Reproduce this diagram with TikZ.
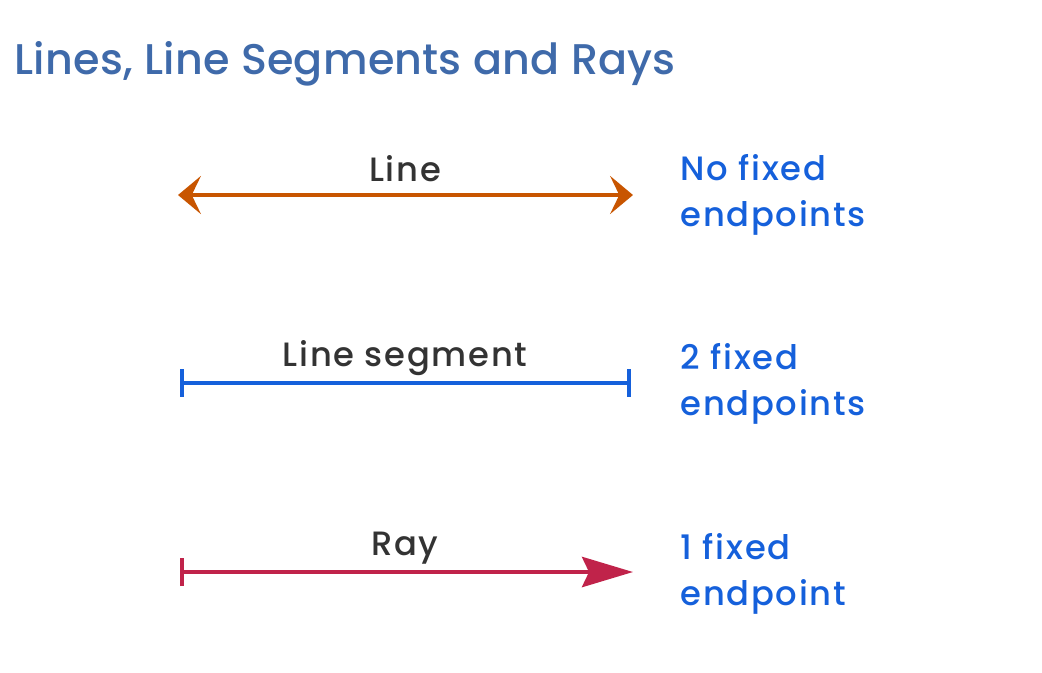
\documentclass[tikz,border=0pt]{standalone}
\usepackage{fontspec}
\setmainfont{Poppins Medium}[LetterSpace=5]
\newfontfamily\titlefont{Poppins Medium}[LetterSpace=0.5]
\usetikzlibrary{arrows.meta}

\definecolor{titleblue}{RGB}{63, 106, 170}
\definecolor{noteblue}{RGB}{21, 96, 219}
\definecolor{lineorange}{RGB}{200, 85, 0}
\definecolor{rayred}{RGB}{192, 35, 74}
\definecolor{labelgray}{RGB}{51, 51, 51}

\begin{document}
\begin{tikzpicture}[x=0.01cm, y=-0.01cm,
    label/.style={text=labelgray, font=\fontsize{9.6}{11}\selectfont, inner sep=0pt},
    note/.style={text=noteblue, font=\fontsize{9.6}{13}\selectfont, align=left, anchor=west, inner sep=0pt},
    shape line/.style={line width=1.15pt}]
        % Page size in pixels
        \useasboundingbox (0,0) rectangle (1042,672);
        \def\xleft{180}
        \def\xright{632}
        \def\xnote{680}

        % Title
        \node[anchor=west, inner sep=0pt, text=titleblue, font=\titlefont\fontsize{12.2}{15}\selectfont] (title) at (14,64) {Lines, Line Segments and Rays};

        % Line: no fixed endpoints
        \coordinate (line start) at (\xleft-2,195);
        \coordinate (line end) at (\xright+1,195);
        \draw[shape line, lineorange, {Stealth[length=6.5pt, width=10.8pt, inset=2.6pt]}-{Stealth[length=6.5pt, width=10.8pt, inset=2.6pt]}] (line start) -- (line end);
        \node[label] (line label) at (405,169) {Line};
        \node[note] (line note) at (\xnote,195) {No fixed\\endpoints};

        % Line segment: 2 fixed endpoints
        \coordinate (seg start) at (\xleft,383);
        \coordinate (seg end) at (\xright-1,383);
        \draw[shape line, noteblue, {Bar[width=7.8pt]}-{Bar[width=7.8pt]}] (seg start) -- (seg end);
        \node[label] (seg label) at (405,358) {Line segment};
        \node[note] (seg note) at (\xnote,384) {2 fixed\\endpoints};

        % Ray: 1 fixed endpoint
        \coordinate (ray start) at (\xleft,572);
        \coordinate (ray end) at (\xright+1,572);
        \draw[shape line, rayred, {Bar[width=8pt]}-{Stealth[length=14.5pt, width=8.6pt, inset=2pt]}] (ray start) -- (ray end);
        \node[label] (ray label) at (405,548) {Ray};
        \node[note] (ray note) at (\xnote,574) {1 fixed\\endpoint};
    \end{tikzpicture}
\end{document}
